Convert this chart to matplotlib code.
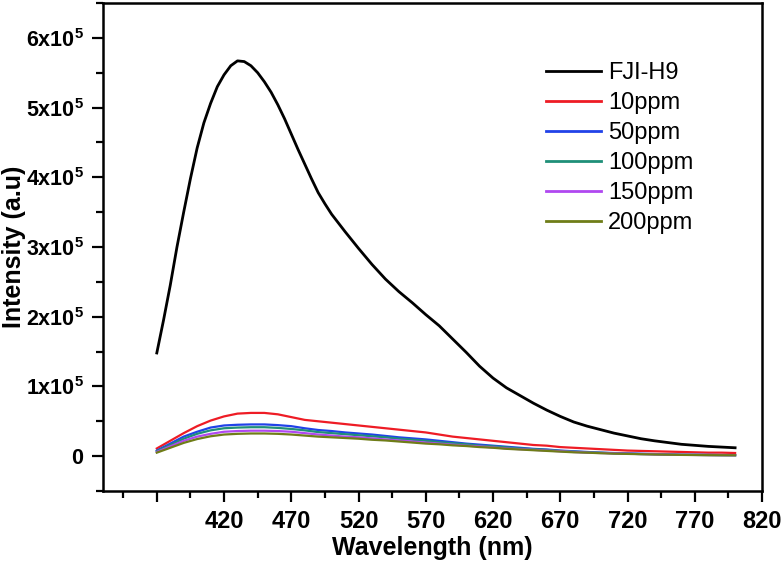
import matplotlib
matplotlib.use("Agg")
import matplotlib.pyplot as plt
from matplotlib.ticker import FixedLocator, MultipleLocator, FuncFormatter
import numpy as np

plt.rcParams['font.family'] = ['Liberation Sans', 'DejaVu Sans']
plt.rcParams['mathtext.fontset'] = 'custom'
plt.rcParams['mathtext.rm'] = 'Liberation Sans:bold'
plt.rcParams['mathtext.bf'] = 'Liberation Sans:bold'
plt.rcParams['mathtext.it'] = 'Liberation Sans:bold'

# FJI-H9 curve, read every 5 nm up to 500 nm, then every 10 nm
fji_wavelength = [370, 375, 380, 385, 390, 395, 400, 405, 410, 415, 420, 425,
                  430, 435, 440, 445, 450, 455, 460, 465, 470, 475, 480, 485,
                  490, 495, 500, 510, 520, 530, 540, 550, 560, 570, 580, 590,
                  600, 610, 620, 630, 640, 650, 660, 670, 680, 690, 700, 710,
                  720, 730, 740, 750, 760, 770, 780, 790, 800]
fji_h9 = [1.48, 1.95, 2.45, 3.00, 3.50, 3.98, 4.42, 4.78, 5.06, 5.30, 5.47, 5.60,
          5.67, 5.66, 5.60, 5.50, 5.37, 5.22, 5.04, 4.84, 4.62, 4.40, 4.19, 3.98,
          3.78, 3.62, 3.47, 3.22, 2.98, 2.75, 2.54, 2.36, 2.20, 2.03, 1.87, 1.68,
          1.49, 1.29, 1.12, 0.98, 0.87, 0.76, 0.66, 0.57, 0.49, 0.43, 0.38, 0.33,
          0.29, 0.25, 0.22, 0.195, 0.17, 0.155, 0.14, 0.13, 0.12]

wavelength = list(range(370, 801, 10))
ppm10 = [0.11, 0.22, 0.33, 0.43, 0.51, 0.57, 0.61, 0.62, 0.62, 0.60,
         0.56, 0.52, 0.50, 0.48, 0.46, 0.44, 0.42, 0.40, 0.38, 0.36,
         0.34, 0.31, 0.28, 0.26, 0.24, 0.22, 0.20, 0.18, 0.16, 0.15,
         0.13, 0.12, 0.11, 0.10, 0.09, 0.08, 0.075, 0.07, 0.065, 0.06,
         0.055, 0.05, 0.05, 0.045]
ppm50 = [0.08, 0.18, 0.28, 0.35, 0.41, 0.44, 0.45, 0.455, 0.455, 0.445,
         0.43, 0.40, 0.375, 0.36, 0.34, 0.325, 0.31, 0.29, 0.27, 0.255,
         0.24, 0.22, 0.20, 0.18, 0.165, 0.15, 0.135, 0.12, 0.105, 0.095,
         0.08, 0.07, 0.06, 0.05, 0.045, 0.04, 0.035, 0.03, 0.025, 0.02,
         0.02, 0.018, 0.016, 0.015]
ppm100 = [0.07, 0.16, 0.25, 0.32, 0.37, 0.40, 0.41, 0.415, 0.415, 0.405,
          0.39, 0.37, 0.345, 0.33, 0.315, 0.30, 0.285, 0.27, 0.25, 0.235,
          0.22, 0.20, 0.185, 0.17, 0.15, 0.14, 0.125, 0.11, 0.10, 0.09,
          0.075, 0.065, 0.055, 0.05, 0.04, 0.035, 0.03, 0.028, 0.024, 0.02,
          0.018, 0.016, 0.015, 0.014]
ppm150 = [0.06, 0.14, 0.22, 0.28, 0.32, 0.35, 0.36, 0.365, 0.365, 0.36,
          0.35, 0.33, 0.31, 0.295, 0.28, 0.27, 0.255, 0.24, 0.225, 0.21,
          0.195, 0.18, 0.165, 0.15, 0.14, 0.125, 0.11, 0.10, 0.09, 0.08,
          0.07, 0.06, 0.05, 0.045, 0.04, 0.035, 0.03, 0.025, 0.022, 0.019,
          0.017, 0.015, 0.014, 0.013]
ppm200 = [0.05, 0.12, 0.19, 0.245, 0.285, 0.31, 0.32, 0.325, 0.325, 0.32,
          0.31, 0.295, 0.28, 0.27, 0.26, 0.25, 0.235, 0.225, 0.21, 0.195,
          0.18, 0.17, 0.155, 0.145, 0.13, 0.12, 0.105, 0.095, 0.085, 0.075,
          0.065, 0.055, 0.05, 0.042, 0.036, 0.032, 0.028, 0.024, 0.021, 0.018,
          0.016, 0.014, 0.013, 0.012]

series_labels = ['FJI-H9', '10ppm', '50ppm', '100ppm', '150ppm', '200ppm']
series_x = [fji_wavelength, wavelength, wavelength, wavelength, wavelength, wavelength]
series_values = [fji_h9, ppm10, ppm50, ppm100, ppm150, ppm200]
series_colors = ['#000000', '#ee1c25', '#2142e8', '#1f8f78', '#b048f0', '#6f7d18']

x_major_ticks = [370, 420, 470, 520, 570, 620, 670, 720, 770, 820]
x_tick_labels = ['', '420', '470', '520', '570', '620', '670', '720', '770', '820']
y_major_ticks = [0, 1e5, 2e5, 3e5, 4e5, 5e5, 6e5]

fig = plt.figure(figsize=(7.82, 5.67), dpi=100)
ax = fig.add_axes([103/782, 1 - 491/567, (762-103)/782, 488/567])

for lab, xs, vals, col in zip(series_labels, series_x, series_values, series_colors):
    y = np.array(vals) * 1e5
    lw = 2.0 if lab == 'FJI-H9' else 1.6
    ax.plot(xs, y, color=col, lw=lw, label=lab, solid_joinstyle='round')

ax.set_xlim(330, 820)
ax.set_ylim(-0.5e5, 6.5e5)

ax.xaxis.set_major_locator(FixedLocator(x_major_ticks))
ax.set_xticklabels(x_tick_labels)
ax.xaxis.set_minor_locator(FixedLocator([345 + 50*i for i in range(10)]))

ax.yaxis.set_major_locator(FixedLocator(y_major_ticks))
def yfmt(v, pos):
    n = int(round(v / 1e5))
    return '0' if n == 0 else r'%dx10$^{5}$' % n
ax.yaxis.set_major_formatter(FuncFormatter(yfmt))
ax.yaxis.set_minor_locator(MultipleLocator(0.5e5))

for s in ax.spines.values():
    s.set_linewidth(1.8)
ax.tick_params(which='major', direction='out', length=8, width=1.6,
               top=False, right=False)
ax.tick_params(which='minor', direction='out', length=5, width=1.6,
               top=False, right=False)
ax.tick_params(axis='x', which='major', labelsize=17, pad=6)
ax.tick_params(axis='y', which='major', labelsize=15.5, pad=6)
for t in ax.get_xticklabels() + ax.get_yticklabels():
    t.set_fontweight('bold')

ax.set_xlabel('Wavelength (nm)', fontsize=18, fontweight='bold')
ax.xaxis.set_label_coords(0.5, (491 - 536) / 488)
ax.xaxis.label.set_verticalalignment('top')
ax.set_ylabel('Intensity (a.u)', fontsize=18, fontweight='bold')
ax.yaxis.set_label_coords((26 - 103) / 659, 0.5)

leg = ax.legend(loc='upper left', bbox_to_anchor=(546/782, 1 - 62/567),
                bbox_transform=fig.transFigure, frameon=False,
                borderpad=0, borderaxespad=0, handlelength=2.33,
                handletextpad=0.3, labelspacing=0.34,
                prop={'family': ['Liberation Sans', 'DejaVu Sans'], 'size': 17})
for line in leg.get_lines():
    line.set_linewidth(2.0)

fig.savefig('out.png', dpi=100)
